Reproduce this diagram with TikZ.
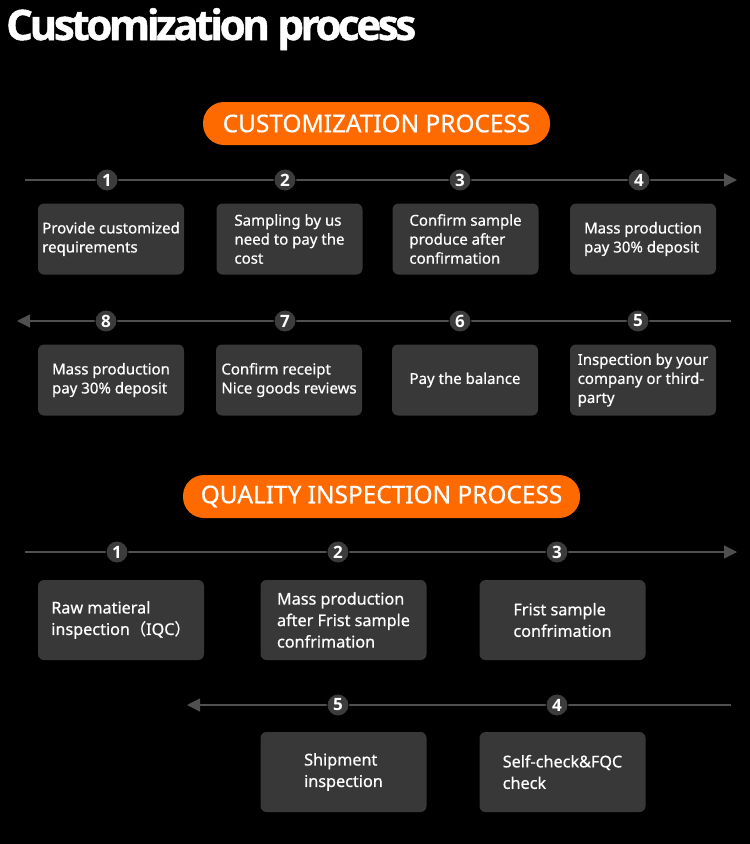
\documentclass[tikz,border=0pt]{standalone}
\usepackage{fontspec}
\setmainfont{Noto Sans}
\newfontfamily\boxfont[FakeBold=0.6]{Noto Sans}
\newfontfamily\titlefont[LetterSpace=-8,FakeBold=1.2]{Open Sans}
\newfontfamily\numfont{Open Sans}
\newfontfamily\cjkfont[FakeBold=0.6]{Noto Sans CJK SC}
\usetikzlibrary{arrows.meta}
\definecolor{boxgray}{HTML}{383838}
\definecolor{linegray}{HTML}{505050}
\definecolor{circgray}{HTML}{3C3C3C}
\definecolor{pillorange}{HTML}{FF6A00}
\tikzset{
  flow/.style={draw=linegray, line width=1.3pt, -{Triangle[length=13pt,width=13pt]}},
  num/.style={circle, fill=circgray, draw=black, line width=0.8pt, minimum size=22pt, inner sep=0pt, text=white, font=\numfont\bfseries\fontsize{17}{17}\selectfont},
  pill/.style={fill=pillorange, rounded corners=21pt, minimum height=43pt, text=white, inner sep=0pt, font=\boxfont\fontsize{24.4}{24.4}\selectfont},
  cbox/.style={fill=boxgray, rounded corners=6pt, minimum width=146pt, minimum height=71pt, text=white, align=left, inner sep=0pt, font=\boxfont\fontsize{15}{19}\selectfont},
  qbox/.style={fill=boxgray, rounded corners=6pt, minimum width=166pt, minimum height=80pt, text=white, align=left, inner sep=0pt, font=\boxfont\fontsize{16.2}{21.5}\selectfont},
}
\begin{document}
\begin{tikzpicture}[x=1pt, y=-1pt]
\fill[black] (0,0) rectangle (750,844);
\useasboundingbox (0,0) rectangle (750,844);

\node[anchor=base west, inner sep=0pt, text=white, font=\titlefont\bfseries\fontsize{42}{42}\selectfont] (title) at (6,40) {Customization process};

\node[pill, minimum width=347pt] (p1) at (376.5,123.5) {CUSTOMIZATION PROCESS};

% row 1
\coordinate (s1) at (25,180);
\coordinate (e1) at (737,180);
\draw[flow] (s1) -- (e1);
\node[num] (n1) at (107,180) {1};
\node[num] (n2) at (285,180) {2};
\node[num] (n3) at (460,180) {3};
\node[num] (n4) at (639,180) {4};
\node[cbox] (b1) at (111,239) {Provide customized\\requirements};
\node[cbox] (b2) at (289.5,239) {Sampling by us\\need to pay the\\cost};
\node[cbox] (b3) at (465.5,239) {Confirm sample\\produce after\\confirmation};
\node[cbox] (b4) at (643,239) {Mass production\\pay 30\% deposit};

% row 2
\coordinate (s2) at (731,321);
\coordinate (e2) at (17,321);
\draw[flow] (s2) -- (e2);
\node[num] (n8) at (106,321) {8};
\node[num] (n7) at (285,321) {7};
\node[num] (n6) at (460,321) {6};
\node[num] (n5) at (638,321) {5};
\node[cbox] (b8) at (111,380) {Mass production\\pay 30\% deposit};
\node[cbox] (b7) at (289,380) {Confirm receipt\\Nice goods reviews};
\node[cbox] (b6) at (465,380) {Pay the balance};
\node[cbox] (b5) at (643,380) {Inspection by your\\company or third-\\party};

\node[pill, minimum width=397pt] (p2) at (381.5,496.5) {QUALITY INSPECTION PROCESS};

% row 3
\coordinate (s3) at (25,552);
\coordinate (e3) at (737,552);
\draw[flow] (s3) -- (e3);
\node[num] (q1) at (117,552) {1};
\node[num] (q2) at (338,552) {2};
\node[num] (q3) at (557,552) {3};
\node[qbox] (c1) at (121,620) {Raw matieral\\inspection{\cjkfont （}IQC{\cjkfont ）}};
\node[qbox] (c2) at (343.5,620) {Mass production\\after Frist sample\\confrimation};
\node[qbox] (c3) at (562.5,620) {Frist sample\\confrimation};

% row 4
\coordinate (s4) at (731,705);
\coordinate (e4) at (187,705);
\draw[flow] (s4) -- (e4);
\node[num] (q5) at (338,705) {5};
\node[num] (q4) at (557,705) {4};
\node[qbox] (c5) at (343.5,772) {Shipment\\inspection};
\node[qbox] (c4) at (562.5,772) {Self-check\&FQC\\check};
\end{tikzpicture}
\end{document}
